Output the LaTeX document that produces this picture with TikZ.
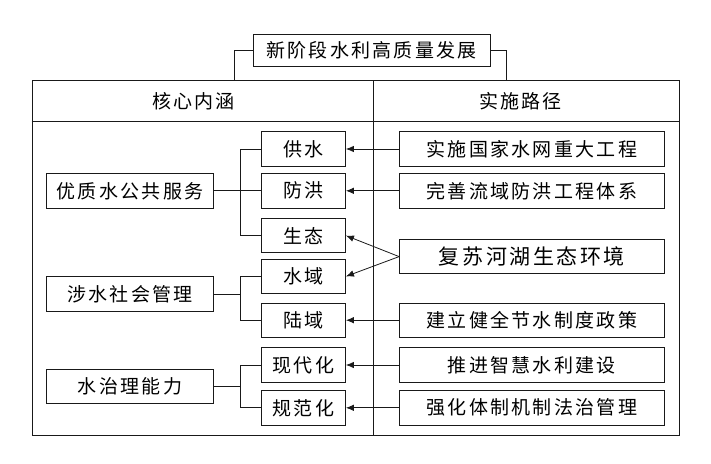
\documentclass[tikz,border=0pt]{standalone}
\usepackage{fontspec}
\setmainfont{Noto Sans CJK SC}[LetterSpace=12]
\usetikzlibrary{positioning,arrows.meta}

\begin{document}
\begin{tikzpicture}[x=1pt,y=1pt]
	\tikzstyle{main}=[rectangle, draw=black!90, line width=0.8pt, minimum height=34.5pt, inner sep=0pt, font=\fontsize{19}{19}\selectfont]
	\tikzstyle{goal}=[main, minimum width=166.5pt]
	\tikzstyle{aspect}=[main, minimum width=84pt]
	\tikzstyle{route}=[main, minimum width=264.6pt]
	\tikzstyle{connect}=[-{Latex[length=8pt,width=6.5pt]}, line width=0.8pt, draw=black!90]
	\tikzstyle{tree}=[line width=0.8pt, draw=black!90]
	\useasboundingbox (0,0) rectangle (711,-463);
	% frame and header
	\node[main, minimum width=237pt, minimum height=32pt] (title) at (371.5,-50) {新阶段水利高质量发展};
	\node[rectangle, draw=black!90, line width=0.8pt, minimum width=647pt, minimum height=355pt] (frame) at (355.5,-257.5) {};
	\node[font=\fontsize{19}{19}\selectfont] (core) at (193.5,-101) {核心内涵};
	\node[font=\fontsize{19}{19}\selectfont] (way) at (520.5,-101) {实施路径};
	\coordinate (lhead) at (234.5,-80);
	\coordinate (rhead) at (506,-80);
	\coordinate (split) at (373,-80);
	\coordinate (row) at (0,-121);
	\coordinate (trunk) at (240.5,0);
	\draw[tree] (title.west) -| (lhead);
	\draw[tree] (title.east) -| (rhead);
	\draw[tree] (frame.west |- row) -- (frame.east |- row);
	\draw[tree] (split) -- (split |- frame.south);
	% middle column
	\node[aspect] (supply) at (303.5,-149) {供水};
	\node[aspect] (flood) [below=6.5pt of supply] {防洪};
	\node[aspect] (eco) [below=9.5pt of flood] {生态};
	\node[aspect] (waters) [below=5.5pt of eco] {水域};
	\node[aspect] (land) [below=8.5pt of waters] {陆域};
	\node[aspect] (modern) [below=9.5pt of land] {现代化};
	\node[aspect] (norm) [below=7.5pt of modern] {规范化};
	% left column
	\node[goal] (service) [left=47.5pt of flood] {优质水公共服务};
	\node[goal] (society) [below=68pt of service] {涉水社会管理};
	\node[goal] (ability) [below=57pt of society] {水治理能力};
	% right column
	\node[route] (net) [right=53.2pt of supply] {实施国家水网重大工程};
	\node[route] (basin) [right=53.2pt of flood] {完善流域防洪工程体系};
	\node[route, font=\fontsize{21}{21}\selectfont] (river) [below=30.5pt of basin] {复苏河湖生态环境};
	\node[route] (saving) [right=53.2pt of land] {建立健全节水制度政策};
	\node[route] (smart) [right=53.2pt of modern] {推进智慧水利建设};
	\node[route] (law) [right=53.2pt of norm] {强化体制机制法治管理};
	% trees
	\draw[tree] (supply.west) -| (trunk |- eco) -- (eco.west);
	\draw[tree] (service.east) -- (flood.west);
	\draw[tree] (waters.west) -| (trunk |- land) -- (land.west);
	\draw[tree] (society.east) -- (society.east -| trunk);
	\draw[tree] (modern.west) -| (trunk |- norm) -- (norm.west);
	\draw[tree] (ability.east) -- (ability.east -| trunk);
	% arrows
	\path (net) edge [connect] (supply)
	(basin) edge [connect] (flood)
	(river.west) edge [connect] (eco.east)
	(river.west) edge [connect] (waters.east)
	(saving) edge [connect] (land)
	(smart) edge [connect] (modern)
	(law) edge [connect] (norm);
\end{tikzpicture}
\end{document}
